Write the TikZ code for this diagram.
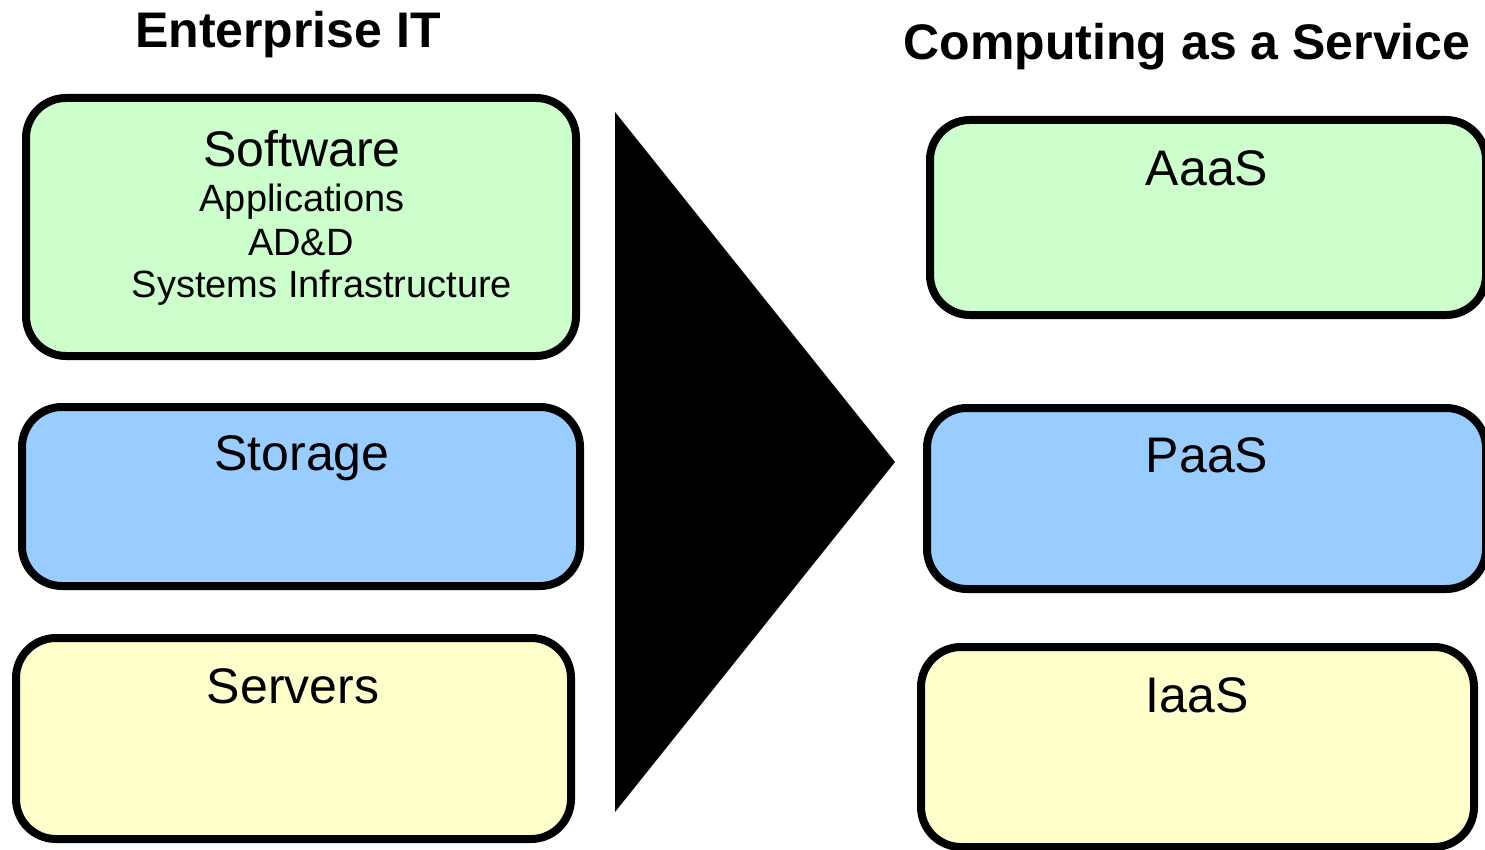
\documentclass[tikz,border=0pt]{standalone}
\usepackage{fontspec}
\setmainfont{Liberation Sans}
\definecolor{sgreen}{HTML}{CCFFCC}
\definecolor{sblue}{HTML}{99CCFF}
\definecolor{syellow}{HTML}{FFFFCC}
\tikzset{
  box/.style={draw=black, line width=8pt, rounded corners=40pt, rectangle, inner sep=0pt},
  big/.style={anchor=base, inner sep=0pt, font=\fontsize{50}{60}\selectfont},
  small/.style={anchor=base, inner sep=0pt, font=\fontsize{38}{44}\selectfont},
  title/.style={anchor=base, inner sep=0pt, font=\fontsize{50}{60}\selectfont\bfseries},
}
\begin{document}
\begin{tikzpicture}[x=1pt,y=-1pt]
\useasboundingbox (0,0) rectangle (1485,850);
% titles
\node[title] (t1) at (288,48) {Enterprise IT};
\node[title] (t2) at (1187,60) {Computing as a Service};
% left boxes
\node[box, fill=sgreen, minimum width=550pt, minimum height=258pt] (sw) at (301,227) {};
\node[box, fill=sblue, minimum width=558pt, minimum height=179pt] (st) at (301,496.5) {};
\node[box, fill=syellow, minimum width=555pt, minimum height=201pt] (sv) at (293.5,738.5) {};
% right boxes
\node[box, fill=sgreen, minimum width=556pt, minimum height=195pt] (aa) at (1208,217.5) {};
\node[box, fill=sblue, minimum width=559pt, minimum height=181pt] (pa) at (1206.5,498.5) {};
\node[box, fill=syellow, minimum width=553pt, minimum height=200pt] (ia) at (1197.5,747) {};
% texts
\node[big] (swt) at (302,167) {Software};
\node[small] (a1) at (302,212) {Applications};
\node[small] (a2) at (301,255) {AD\&D};
\node[small] (a3) at (322,298) {Systems Infrastructure};
\node[big] (stt) at (302,470) {Storage};
\node[big] (svt) at (293,703) {Servers};
\node[big] (aat) at (1207,186) {AaaS};
\node[big] (pat) at (1207,472) {PaaS};
\node[big] (iat) at (1197,712) {IaaS};
% arrow triangle
\fill[black] (615,112) -- (895,462) -- (615,812) -- cycle;
\end{tikzpicture}
\end{document}
